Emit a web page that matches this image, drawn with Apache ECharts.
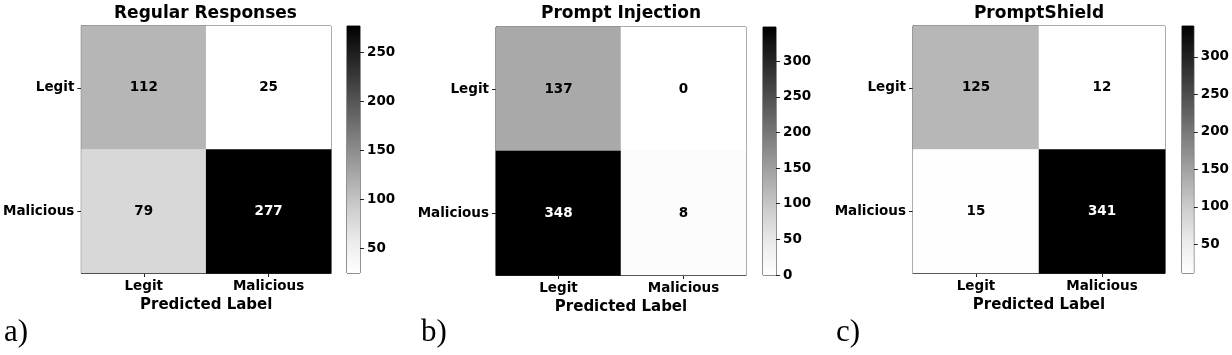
<!DOCTYPE html>
<html>
<head>
<meta charset="utf-8">
<script src="https://cdn.jsdelivr.net/npm/echarts@6/dist/echarts.min.js"></script>
<style>
  html, body { margin: 0; padding: 0; background: #fff; }
  #chart { width: 1232px; height: 355px; }
</style>
</head>
<body>
<div id="chart"></div>
<script>
// confusion matrices: rows = true label, cols = predicted label
const labels = ['Legit', 'Malicious'];
const regularVals = [[112, 25], [79, 277]];
const injectionVals = [[137, 0], [348, 8]];
const shieldVals = [[125, 12], [15, 341]];

const titles = ['Regular Responses', 'Prompt Injection', 'PromptShield'];
const panelTags = ['a)', 'b)', 'c)'];
const cbarRanges = [[25, 277], [0, 348], [12, 341]];
const cbarTicks = [
  [50, 100, 150, 200, 250],
  [0, 50, 100, 150, 200, 250, 300],
  [50, 100, 150, 200, 250, 300]
];

// grey ramp, white -> black
const greys = ['#ffffff', '#ececec', '#d0d0d0', '#aeaeae', '#8c8c8c', '#696969', '#464646', '#232323', '#000000'];

const layout = [
  { left: 80, top: 26, width: 251, height: 247, cbLeft: 347, tag: 4 },
  { left: 496, top: 27, width: 250, height: 248, cbLeft: 763, tag: 421 },
  { left: 913, top: 26, width: 252, height: 247, cbLeft: 1182, tag: 836 }
];

const matrices = [regularVals, injectionVals, shieldVals];
const font = 'DejaVu Sans';

const chart = echarts.init(document.getElementById('chart'));

const grid = [], xAxis = [], yAxis = [], series = [], visualMap = [], title = [];

const stops = greys.map((c, i) => ({ offset: i / (greys.length - 1), color: c }));

matrices.forEach((m, i) => {
  const L = layout[i];
  const [mn, mx] = cbarRanges[i];

  grid.push({ left: L.left, top: L.top, width: L.width, height: L.height,
    show: true, borderColor: '#222', borderWidth: 1, backgroundColor: 'transparent' });
  grid.push({ left: L.cbLeft, top: L.top, width: 13, height: L.height,
    show: true, borderColor: '#222', borderWidth: 1, backgroundColor: 'transparent' });

  xAxis.push({
    type: 'category', data: labels, gridIndex: 2 * i,
    axisLine: { show: true, lineStyle: { color: '#222' } },
    axisTick: { show: true, alignWithLabel: true, length: 4, lineStyle: { color: '#222' } },
    axisLabel: { color: '#000', fontFamily: font, fontWeight: 'bold', fontSize: 13.5, margin: 6 },
    splitLine: { show: false },
    name: 'Predicted Label', nameLocation: 'middle', nameGap: 21,
    nameTextStyle: { color: '#000', fontFamily: font, fontWeight: 'bold', fontSize: 15 }
  });
  yAxis.push({
    type: 'category', data: labels, gridIndex: 2 * i, inverse: true,
    axisLine: { show: true, lineStyle: { color: '#222' } },
    axisTick: { show: true, alignWithLabel: true, length: 4, lineStyle: { color: '#222' } },
    axisLabel: { color: '#000', fontFamily: font, fontWeight: 'bold', fontSize: 13.5, margin: 7 },
    splitLine: { show: false }
  });

  // colorbar axes
  xAxis.push({ type: 'category', data: [''], gridIndex: 2 * i + 1, show: false });
  yAxis.push({
    type: 'value', gridIndex: 2 * i + 1, position: 'right', min: mn, max: mx,
    axisLine: { show: false },
    axisTick: { show: true, length: 4, inside: false, customValues: cbarTicks[i], lineStyle: { color: '#222' } },
    axisLabel: { color: '#000', fontFamily: font, fontWeight: 'bold', fontSize: 13.5, margin: 7, customValues: cbarTicks[i] },
    splitLine: { show: false }
  });

  const data = [];
  m.forEach((row, r) => row.forEach((v, c) => {
    data.push({ value: [c, r, v], label: { color: v > (mn + mx) / 2 ? '#fff' : '#000' } });
  }));

  series.push({
    type: 'heatmap', xAxisIndex: 2 * i, yAxisIndex: 2 * i, data: data,
    label: { show: true, fontFamily: font, fontWeight: 'bold', fontSize: 13.5,
      formatter: p => p.value[2] },
    itemStyle: { borderWidth: 0 },
    emphasis: { disabled: true }
  });

  series.push({
    type: 'bar', xAxisIndex: 2 * i + 1, yAxisIndex: 2 * i + 1,
    data: [mx], barWidth: '100%', clip: true, silent: true,
    itemStyle: { color: new echarts.graphic.LinearGradient(0, 1, 0, 0, stops) }
  });

  visualMap.push({
    type: 'continuous', show: false, seriesIndex: 2 * i, dimension: 2,
    min: mn, max: mx, inRange: { color: greys }
  });

  title.push({
    text: titles[i], left: L.left + L.width / 2, top: 5, textAlign: 'center', padding: 0,
    textStyle: { color: '#000', fontFamily: font, fontWeight: 'bold', fontSize: 17 }
  });
  title.push({
    text: panelTags[i], left: L.tag, top: 317, padding: 0,
    textStyle: { color: '#000', fontFamily: 'Liberation Serif', fontWeight: 'normal', fontSize: 31 }
  });
});

chart.setOption({
  backgroundColor: '#fff',
  animation: false,
  title: title,
  grid: grid,
  xAxis: xAxis,
  yAxis: yAxis,
  visualMap: visualMap,
  series: series
});
</script>
</body>
</html>
